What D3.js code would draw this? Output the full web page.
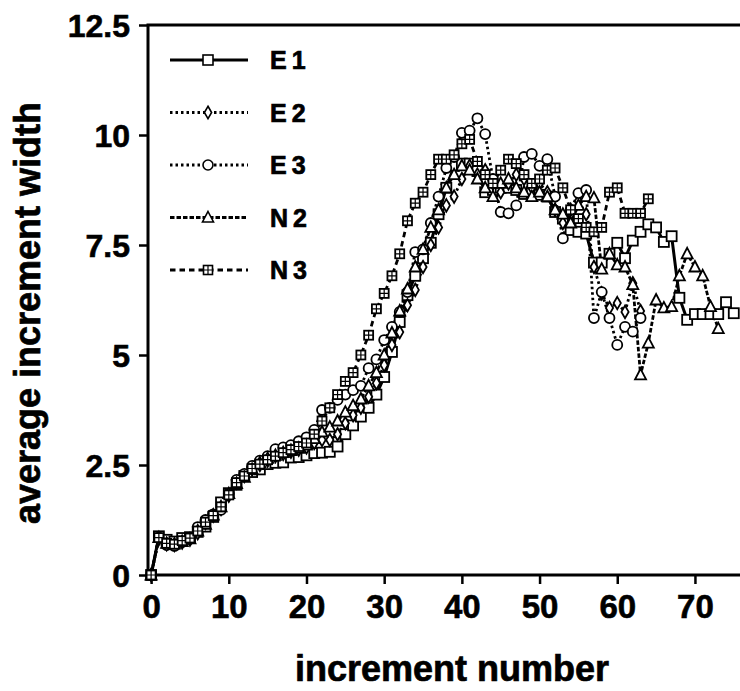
<!DOCTYPE html>
<html>
<head>
<meta charset="utf-8">
<script src="https://cdn.jsdelivr.net/npm/d3@7"></script>
<style>
  body { margin: 0; background: #fff; }
  svg { font-family: "Liberation Sans", Arial, Helvetica, sans-serif; font-weight: bold; }
  .axis text { font-weight: bold; fill: #000; stroke: #000; stroke-width: 0.6px; }
  .axis line { stroke: #000; stroke-width: 2.5px; }
  .heavy { fill: #000; stroke: #000; stroke-width: 0.7px; }
</style>
</head>
<body>
<svg id="chart" width="740" height="691"></svg>
<script>
// values, one per increment number starting at 0
const seriesNames = ["E1", "E2", "E3", "N2", "N3"];

const e1 = [0, 0.88, 0.8, 0.76, 0.84, 0.86, 0.98, 1.1, 1.32, 1.65, 1.86, 2.05, 2.25, 2.34, 2.4, 2.52,
  2.55, 2.56, 2.67, 2.68, 2.72, 2.77, 2.78, 2.8, 2.92, 3.2, 3.4, 3.6, 3.8, 4.1, 4.5, 5.07, 5.75, 6.36,
  6.8, 7.2, 7.55, 8.2, 8.8, 9.3, 9.35, 9.35, 9.18, 8.7, 8.75, 8.8, 8.8, 8.75, 8.66, 8.7, 8.64, 8.6,
  8.25, 8.1, 7.84, 7.8, 7.76, 7.1, 7.1, 7.3, 7.55, 7.2, 7.6, 7.8, 7.97, 7.9, 7.57, 7.7, 6.3, 5.8,
  5.93, 5.93, 5.93, 5.93, 6.2, 5.95];

const e2 = [0, 0.82, 0.7, 0.68, 0.74, 0.8, 0.95, 1.18, 1.35, 1.5, 1.8, 2.1, 2.25, 2.4, 2.5, 2.6,
  2.7, 2.75, 2.8, 2.85, 2.9, 3.0, 3.07, 3.07, 3.2, 3.45, 3.63, 3.8, 4.05, 4.36, 4.77, 5.23, 5.52,
  6.13, 6.48, 7.0, 7.5, 7.9, 8.4, 8.6, 9.0, 9.3, 9.1, 9.2, 8.9, 8.7, 8.9, 9.1, 9.0, 8.8, 8.9, 8.7,
  8.3, 8.0, 8.3, 8.5, 8.2, 7.0, 6.4, 6.07, 6.18, 5.98, 6.63, 6.0];

const e3 = [0, 0.85, 0.68, 0.66, 0.75, 0.82, 1.09, 1.25, 1.38, 1.48, 1.85, 2.16, 2.3, 2.48, 2.6, 2.7,
  2.86, 2.9, 2.95, 3.04, 3.13, 3.3, 3.75, 3.8, 3.98, 4.1, 4.2, 4.3, 4.7, 4.9, 5.34, 5.64, 5.98, 6.43,
  7.34, 7.4, 8.0, 8.6, 9.25, 9.5, 10.05, 10.1, 10.38, 10.02, 9.0, 8.25, 8.22, 8.4, 9.5, 9.57, 9.3,
  9.45, 8.6, 7.65, 8.3, 8.68, 8.75, 5.84, 6.43, 5.84, 5.23, 5.64, 5.53, 5.84];

const n2 = [0, 0.85, 0.72, 0.7, 0.76, 0.82, 1.0, 1.15, 1.36, 1.55, 1.85, 2.08, 2.22, 2.4, 2.55, 2.65,
  2.72, 2.78, 2.83, 2.88, 2.95, 3.1, 3.25, 3.36, 3.5, 3.7, 3.85, 4.0, 4.3, 4.6, 5.0, 5.5, 6.0, 6.5,
  7.0, 7.4, 7.9, 8.3, 8.8, 9.1, 9.3, 9.2, 9.0, 8.8, 8.6, 8.9, 9.0, 8.8, 8.7, 8.6, 8.7, 8.6, 8.3, 8.2,
  8.0, 8.4, 8.6, 8.57, 6.95, 7.3, 7.05, 7.0, 6.6, 4.55, 5.27, 6.25, 6.07, 6.1, 6.8, 7.3, 7.0, 6.8,
  6.1, 5.6];

const n3 = [0, 0.85, 0.72, 0.7, 0.78, 0.84, 1.0, 1.2, 1.35, 1.55, 1.82, 2.1, 2.25, 2.42, 2.52, 2.62,
  2.7, 2.78, 2.85, 2.92, 3.0, 3.2, 3.5, 3.8, 4.1, 4.4, 4.6, 5.0, 5.45, 6.05, 6.4, 6.8, 7.3, 8.05,
  8.45, 8.7, 9.1, 9.45, 9.45, 9.55, 9.8, 9.9, 9.4, 9.1, 8.9, 9.2, 9.45, 9.35, 9.1, 8.9, 9.0, 9.2,
  9.25, 8.8, 8.3, 8.1, 7.9, 7.8, 7.9, 8.7, 8.8, 8.22, 8.22, 8.22, 8.55];

const xTicks = [0, 10, 20, 30, 40, 50, 60, 70];
const yTicks = [0, 2.5, 5, 7.5, 10, 12.5];

const svg = d3.select("#chart");

const x = d3.scaleLinear().domain([-0.4, 75.8]).range([148, 740]);
const y = d3.scaleLinear().domain([0, 12.5]).range([575, 25]);

const styles = {
  E1: { dash: null, width: 3, symbol: "square" },
  E2: { dash: "2.5,3", width: 2.8, symbol: "diamond" },
  E3: { dash: "2.5,3", width: 2.8, symbol: "circle" },
  N2: { dash: "4.5,2", width: 2.8, symbol: "triangle" },
  N3: { dash: "5.5,4", width: 2.8, symbol: "cross" }
};

const allSeries = [e1, e2, e3, n2, n3].map((vals, k) => ({
  name: seriesNames[k],
  points: vals.map((v, i) => ({ i: i, v: v }))
}));

function drawMarker(g, kind) {
  if (kind === "square") {
    g.append("rect").attr("x", -5).attr("y", -5).attr("width", 10).attr("height", 10);
  } else if (kind === "diamond") {
    g.append("path").attr("d", d3.symbol(d3.symbolDiamond, 45)());
  } else if (kind === "circle") {
    g.append("circle").attr("r", 5);
  } else if (kind === "triangle") {
    g.append("path").attr("d", "M0,-6L5.5,4.5L-5.5,4.5Z");
  } else {
    g.append("rect").attr("x", -4.5).attr("y", -4.5).attr("width", 9).attr("height", 9);
    g.append("path").attr("d", "M0,-4.5V4.5M-4.5,0H4.5").attr("stroke-width", 1.2);
  }
}

// axes
svg.append("g")
  .attr("class", "axis")
  .attr("transform", `translate(${x.range()[0]},0)`)
  .call(d3.axisLeft(y).tickValues(yTicks).tickSize(9).tickSizeOuter(0).tickPadding(9).tickFormat((d) => d))
  .call((g) => g.select(".domain").remove())
  .selectAll("text")
  .style("font-size", "32px")
  .attr("dy", "0.36em");

svg.append("g")
  .attr("class", "axis")
  .attr("transform", `translate(0,${y(0)})`)
  .call(d3.axisBottom(x).tickValues(xTicks).tickSize(9).tickSizeOuter(0).tickPadding(11))
  .call((g) => g.select(".domain").remove())
  .selectAll("text")
  .style("font-size", "33px");

// frame: left, top and bottom lines
svg.append("path")
  .attr("d", `M${x.range()[1]},${y(12.5)}H${x.range()[0]}V${y(0) + 2}`)
  .attr("fill", "none").attr("stroke", "#000").attr("stroke-width", 3);
svg.append("line")
  .attr("x1", x.range()[0]).attr("x2", x.range()[1])
  .attr("y1", y(0)).attr("y2", y(0))
  .attr("stroke", "#000").attr("stroke-width", 2.8);

// series lines
const line = d3.line().x((d) => x(d.i)).y((d) => y(d.v));

svg.selectAll(".series-line")
  .data(allSeries)
  .enter()
  .append("path")
  .attr("class", "series-line")
  .attr("d", (d) => line(d.points))
  .attr("fill", "none")
  .attr("stroke", "#000")
  .attr("stroke-width", (d) => styles[d.name].width)
  .attr("stroke-dasharray", (d) => styles[d.name].dash)
  .attr("stroke-linejoin", "round");

// markers
allSeries.forEach((s) => {
  const mg = svg.append("g").attr("fill", "#fff").attr("stroke", "#000").attr("stroke-width", 1.8);
  s.points.forEach((p) => {
    const g = mg.append("g").attr("transform", `translate(${x(p.i)},${y(p.v)})`);
    drawMarker(g, styles[s.name].symbol);
  });
});

// legend
const legend = svg.append("g").attr("class", "legend");
seriesNames.forEach((name, k) => {
  const ly = 60 + k * 52.5;
  const st = styles[name];
  legend.append("line")
    .attr("x1", 170).attr("x2", 248).attr("y1", ly).attr("y2", ly)
    .attr("stroke", "#000").attr("stroke-width", st.width)
    .attr("stroke-dasharray", st.dash);
  const mg = legend.append("g")
    .attr("transform", `translate(208,${ly})`)
    .attr("fill", "#fff").attr("stroke", "#000").attr("stroke-width", 1.6);
  drawMarker(mg, st.symbol);
  legend.append("text")
    .attr("class", "heavy")
    .attr("x", 270).attr("y", ly)
    .attr("dy", "0.36em")
    .style("font-size", "25px")
    .style("letter-spacing", "5px")
    .text(name);
});

// axis titles
svg.append("text")
  .attr("class", "heavy")
  .attr("x", 452).attr("y", 681)
  .attr("text-anchor", "middle")
  .style("font-size", "36px")
  .text("increment number");

svg.append("text")
  .attr("class", "heavy")
  .attr("transform", "rotate(-90)")
  .attr("x", -313).attr("y", 40)
  .attr("text-anchor", "middle")
  .style("font-size", "36px")
  .text("average increment width");
</script>
</body>
</html>
